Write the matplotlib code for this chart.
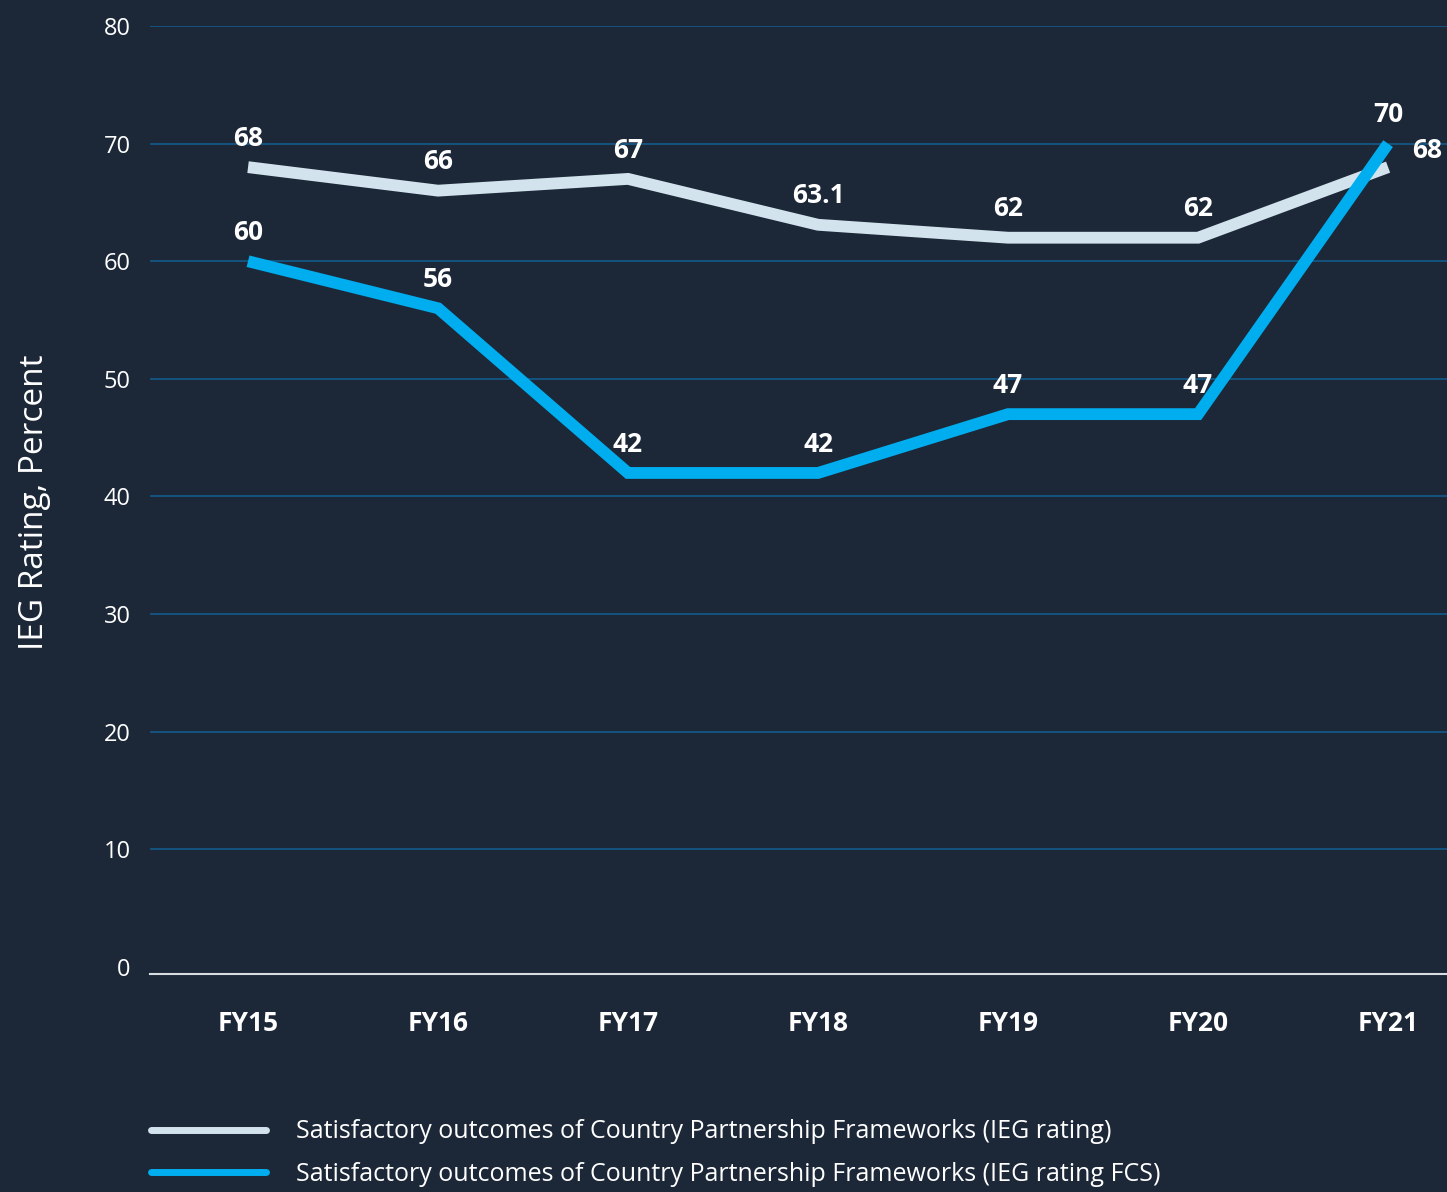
import matplotlib
matplotlib.use("Agg")
from matplotlib import pyplot as plt

years = ["FY15", "FY16", "FY17", "FY18", "FY19", "FY20", "FY21"]
ieg_rating = [68, 66, 67, 63.1, 62, 62, 68]
ieg_rating_fcs = [60, 56, 42, 42, 47, 47, 70]
series_names = [
    "Satisfactory outcomes of Country Partnership Frameworks (IEG rating)",
    "Satisfactory outcomes of Country Partnership Frameworks (IEG rating FCS)",
]
yticks = [0, 10, 20, 30, 40, 50, 60, 70, 80]

bg = "#1c2838"
grid_col = "#145a8c"
white_col = "#d3e3ed"
blue_col = "#00aeef"

plt.rcParams['font.family'] = ['Open Sans', 'DejaVu Sans']

fig = plt.figure(figsize=(14.47, 11.92), dpi=100, facecolor=bg)
# axis spans from the y tick labels to the right edge of the picture
ax = fig.add_axes([150/1447, 1 - 974/1192, 1 - 150/1447, (974 - 26)/1192])
ax.set_facecolor(bg)

x = list(range(len(years)))
ax.plot(x, ieg_rating, color=white_col, lw=8.5, solid_joinstyle='miter',
        solid_capstyle='butt', label=series_names[0], zorder=3)
ax.plot(x, ieg_rating_fcs, color=blue_col, lw=8.5, solid_joinstyle='miter',
        solid_capstyle='butt', label=series_names[1], zorder=4)

# value labels above each point
for i, (xi, v) in enumerate(zip(x, ieg_rating)):
    # last white label pushed right so it does not sit on the blue "70"
    off = (28, 2) if i == len(x) - 1 else (0, 11)
    ax.annotate(f"{v:g}", (xi, v), xytext=off, textcoords='offset points',
                ha='center', va='bottom', color='white', fontsize=19,
                fontweight='bold', zorder=5)
for xi, v in zip(x, ieg_rating_fcs):
    ax.annotate(f"{v:g}", (xi, v), xytext=(0, 11), textcoords='offset points',
                ha='center', va='bottom', color='white', fontsize=19,
                fontweight='bold', zorder=5)

ax.set_xlim(-0.516, 6.31)
ax.set_ylim(-0.6, 80)
ax.set_yticks(yticks)
ax.set_yticklabels([str(t) for t in yticks], color='white', fontsize=17)
ax.set_xticks(x)
ax.set_xticklabels(years, color='white', fontsize=19, fontweight='bold')
ax.tick_params(axis='y', length=0, pad=14)
ax.tick_params(axis='x', length=0, pad=26)

for t in yticks[1:]:
    ax.axhline(t, color=grid_col, lw=1.2, zorder=1)

for s in ['top', 'right', 'left']:
    ax.spines[s].set_visible(False)
ax.spines['bottom'].set_color('#d8dde2')
ax.spines['bottom'].set_linewidth(1.5)

fig.text(35/1447, 1 - 502/1192, "IEG Rating, Percent", rotation=90,
         color='white', fontsize=24, ha='center', va='center')

leg = fig.legend(loc='upper left', bbox_to_anchor=(128/1447, 1 - 1097/1192),
                 frameon=False, fontsize=18, labelcolor='white',
                 handlelength=4.6, handletextpad=1.2, labelspacing=0.7)
for line in leg.get_lines():
    line.set_linewidth(5)
    line.set_solid_capstyle('round')

fig.savefig("out.png", dpi=100, facecolor=bg)
